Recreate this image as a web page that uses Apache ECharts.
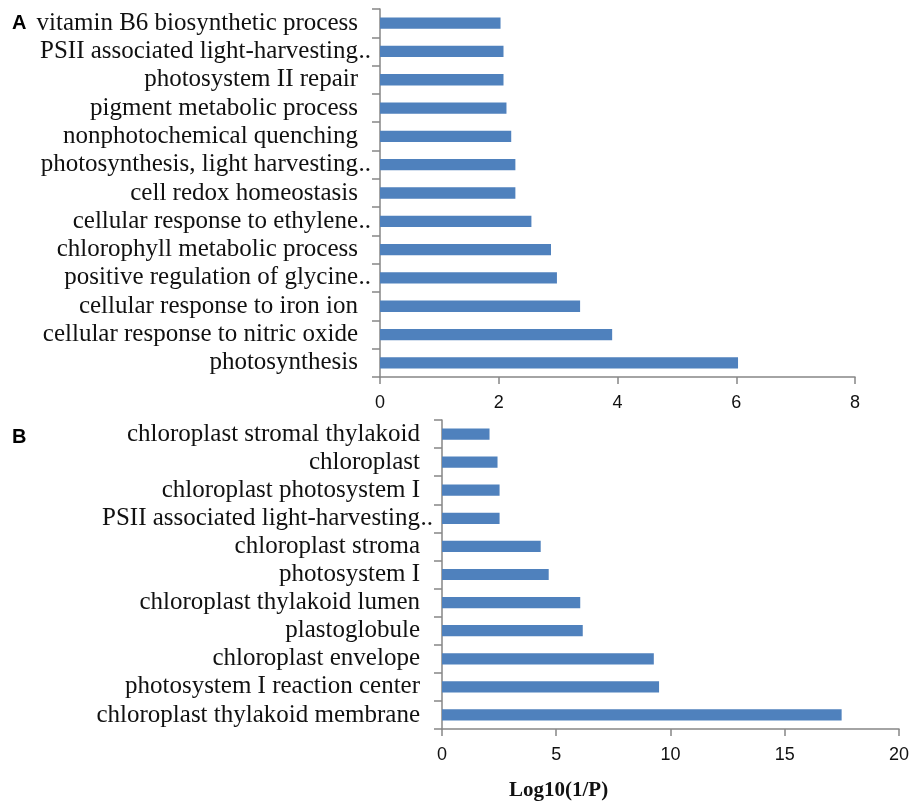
<!DOCTYPE html>
<html>
<head>
<meta charset="utf-8">
<script src="https://cdn.jsdelivr.net/npm/echarts@6/dist/echarts.min.js"></script>
<style>
  html, body { margin: 0; padding: 0; background: #fff; }
  #main { width: 912px; height: 803px; }
</style>
</head>
<body>
<div id="main"></div>
<script>
  /* 데이터 */
  // A: biological process
  var categoriesA = [
    'vitamin B6 biosynthetic process',
    'PSII associated light-harvesting..',
    'photosystem II repair',
    'pigment metabolic process',
    'nonphotochemical quenching',
    'photosynthesis, light harvesting..',
    'cell redox homeostasis',
    'cellular response to ethylene..',
    'chlorophyll metabolic process',
    'positive regulation of glycine..',
    'cellular response to iron ion',
    'cellular response to nitric oxide',
    'photosynthesis'
  ];
  var valuesA = [2.03, 2.08, 2.08, 2.13, 2.21, 2.28, 2.28, 2.55, 2.88, 2.98, 3.37, 3.91, 6.03];
  var ticksA = { min: 0, max: 8, interval: 2 };

  // B: cellular component
  var categoriesB = [
    'chloroplast stromal thylakoid',
    'chloroplast',
    'chloroplast photosystem I',
    'PSII associated light-harvesting..',
    'chloroplast stroma',
    'photosystem I',
    'chloroplast thylakoid lumen',
    'plastoglobule',
    'chloroplast envelope',
    'photosystem I reaction center',
    'chloroplast thylakoid membrane'
  ];
  var valuesB = [2.08, 2.43, 2.52, 2.52, 4.32, 4.67, 6.05, 6.16, 9.27, 9.5, 17.49];
  var ticksB = { min: 0, max: 20, interval: 5 };

  var axisTitle = 'Log10(1/P)';

  var barColor = '#4f81bd';
  var lineColor = '#868686';

  // 잘린 라벨은 ".." 이 축 쪽으로 튀어나오게
  function catLabel(value) {
    if (value.slice(-2) === '..') {
      return '{t|' + value.slice(0, -2) + '}{dot|..}';
    }
    return '{t|' + value + '}{pad| }';
  }

  var labelRich = {
    t: { fontFamily: 'Liberation Serif', fontSize: 25, color: '#111' },
    dot: { fontFamily: 'Liberation Serif', fontSize: 25, color: '#111', width: 13 },
    pad: { fontFamily: 'Liberation Serif', fontSize: 25, width: 13 }
  };

  function catAxis(idx, data) {
    return {
      type: 'category',
      gridIndex: idx,
      data: data,
      inverse: true,
      axisLine: { lineStyle: { color: lineColor, width: 1.5 } },
      axisTick: { show: true, length: 8, lineStyle: { color: lineColor, width: 1.5 } },
      axisLabel: { margin: 9, formatter: catLabel, rich: labelRich }
    };
  }

  function valAxis(idx, t) {
    return {
      type: 'value',
      gridIndex: idx,
      min: t.min,
      max: t.max,
      interval: t.interval,
      splitLine: { show: false },
      axisLine: { show: true, lineStyle: { color: lineColor, width: 1.5 } },
      axisTick: { show: true, length: 7, lineStyle: { color: lineColor, width: 1.5 } },
      axisLabel: {
        margin: 17,
        fontFamily: 'Liberation Sans',
        fontSize: 18,
        color: '#111'
      }
    };
  }

  var myChart = echarts.init(document.getElementById('main'));

  var option = {
    animation: false,
    backgroundColor: '#fff',
    grid: [
      { left: 380, top: 9, width: 475, height: 368 },
      { left: 442, top: 420, width: 458, height: 309 }
    ],
    xAxis: [valAxis(0, ticksA), valAxis(1, ticksB)],
    yAxis: [catAxis(0, categoriesA), catAxis(1, categoriesB)],
    series: [
      {
        type: 'bar',
        xAxisIndex: 0,
        yAxisIndex: 0,
        barWidth: '40%',
        itemStyle: { color: barColor },
        data: valuesA
      },
      {
        type: 'bar',
        xAxisIndex: 1,
        yAxisIndex: 1,
        barWidth: '40%',
        itemStyle: { color: barColor },
        data: valuesB
      }
    ],
    graphic: [
      {
        type: 'text', left: 12, top: 13,
        style: { text: 'A', fontFamily: 'Liberation Sans', fontWeight: 'bold', fontSize: 20, fill: '#000' }
      },
      {
        type: 'text', left: 12, top: 427,
        style: { text: 'B', fontFamily: 'Liberation Sans', fontWeight: 'bold', fontSize: 20, fill: '#000' }
      },
      {
        type: 'text', left: 509, top: 780,
        style: { text: axisTitle, fontFamily: 'Liberation Serif', fontWeight: 'bold', fontSize: 21, fill: '#111' }
      }
    ]
  };

  myChart.setOption(option);
</script>
</body>
</html>
